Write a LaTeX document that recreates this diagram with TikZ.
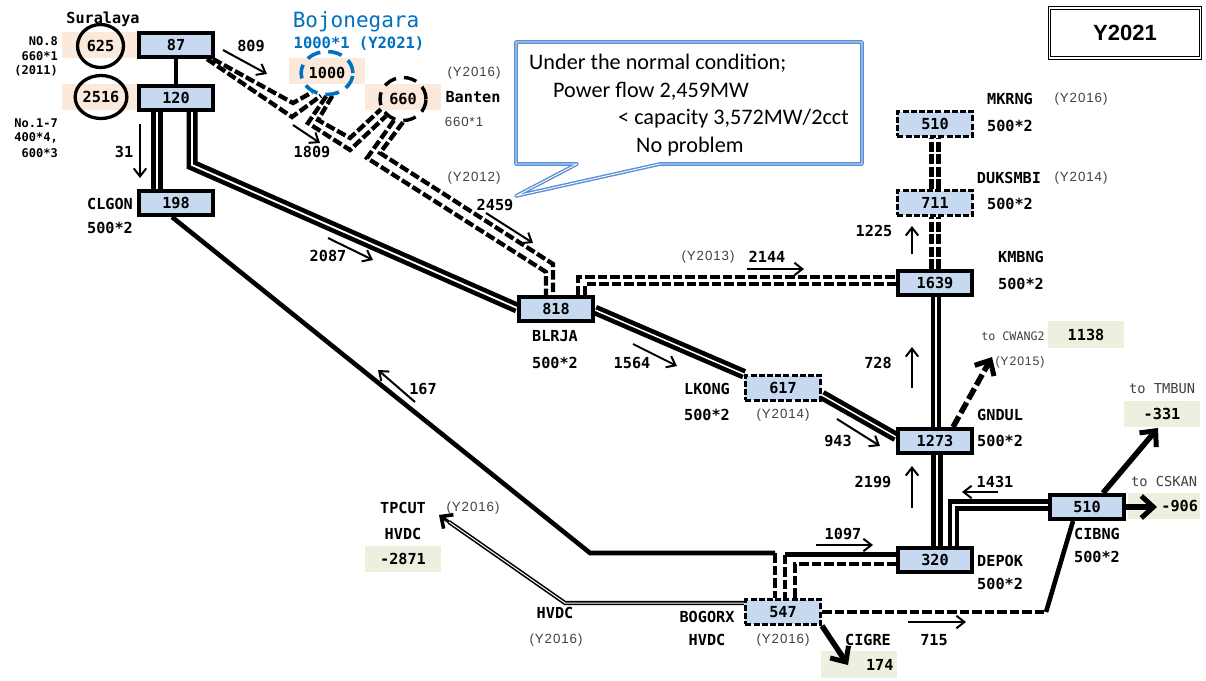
\documentclass[tikz,border=0pt]{standalone}
\usepackage{fontspec}
\usetikzlibrary{arrows.meta,shapes.geometric,calc}
\setmainfont{Liberation Sans}
\newfontfamily\labfont{DejaVu Sans Mono}
\newfontfamily\yrfont[LetterSpace=7]{Liberation Sans}
\newfontfamily\notefont{Carlito}
\definecolor{nodeblue}{HTML}{C6D9F1}
\definecolor{peach}{HTML}{FBE9DB}
\definecolor{palegreen}{HTML}{EBF1DE}
\definecolor{yeargray}{HTML}{404040}
\definecolor{bojoblue}{HTML}{0070C0}
\definecolor{calloutblue}{HTML}{5B8FD5}
\pgfdeclarelayer{panel}
\pgfdeclarelayer{wire}
\pgfsetlayers{panel,wire,main}
\tikzset{
  sub/.style={draw=black,fill=nodeblue,line width=3.8pt,minimum width=74.2pt,minimum height=24.2pt,inner sep=0pt,font=\labfont\fontsize{15.2}{15.2}\selectfont\bfseries},
  newsub/.style={sub,line width=2.8pt,dash pattern=on 6pt off 2.2pt,minimum width=75.2pt,minimum height=24.8pt},
  lab/.style={inner sep=0pt,font=\labfont\fontsize{15.2}{15.2}\selectfont\bfseries},
  smalllab/.style={inner sep=0pt,font=\labfont\fontsize{12}{12}\selectfont\bfseries},
  yr/.style={inner sep=0pt,text=yeargray,font=\yrfont\fontsize{13.3}{14}\selectfont},
  tolab/.style={inner sep=0pt,text=yeargray,font=\labfont\fontsize{13.7}{14}\selectfont},
  peachbox/.style={fill=peach,minimum width=76pt,minimum height=26.5pt,inner sep=0pt},
  greenbox/.style={fill=palegreen,minimum width=76pt,minimum height=26.5pt,inner sep=0pt,font=\labfont\fontsize{15.2}{15.2}\selectfont\bfseries},
  gen/.style={ellipse,draw=black,line width=3.3pt,minimum width=46pt,minimum height=43pt,inner sep=0pt,font=\labfont\fontsize{15.2}{15.2}\selectfont\bfseries},
  solid1/.style={line width=4.6pt,line join=miter},
  dash1/.style={line width=4.3pt,dash pattern=on 9.5pt off 3pt},
  dash2/.style={line width=5pt,double distance=2pt,dash pattern=on 10pt off 2.5pt},
  dblsolid/.style={line width=4.6pt,double distance=1.8pt},
  dblthin/.style={line width=1.6pt,double distance=1pt},
  flowarr/.style={line width=2pt,-{Straight Barb[length=8pt,width=12.5pt,line width=2pt]}},
  bigarr/.style={line width=5.5pt,-{Straight Barb[length=12pt,width=22pt,line width=5pt]}},
  notetext/.style={inner sep=0pt,anchor=base west,font=\notefont\fontsize{22.2}{23}\selectfont},
}
\newcommand{\flowline}[3]{\coordinate (#1a) at (#2);\coordinate (#1b) at (#3);\draw[flowarr] (#1a) -- (#1b);}
\begin{document}
\begin{tikzpicture}[x=1pt,y=-1pt]
\useasboundingbox (0,0) rectangle (1206,680);

% substations
\node[sub] (n87) at (176,45) {87};
\node[sub] (n120) at (176,98) {120};
\node[sub] (n198) at (176,203) {198};
\node[sub] (n818) at (556,309) {818};
\node[newsub] (n617) at (783,388) {617};
\node[sub] (n1639) at (935,283) {1639};
\node[sub] (n1273) at (935,441) {1273};
\node[newsub] (n711) at (935,203) {711};
\node[newsub] (n510m) at (935,124) {510};
\node[sub] (n320) at (935,560) {320};
\node[sub] (n510c) at (1087,507) {510};
\node[newsub] (n547) at (783,612) {547};

% power stations
\node[gen] (c625) at (100.5,46) {625};
\node[gen] (c2516) at (101,97) {2516};
\node[gen,draw=bojoblue,line width=3.6pt,dash pattern=on 14pt off 8pt] (c1000) at (327,73) {1000};
\node[gen,line width=3.4pt,dash pattern=on 13pt off 8pt] (c660) at (403,99) {660};

% panels
\begin{pgfonlayer}{panel}
\node[peachbox] (p625) at (100,45) {};
\node[peachbox] (p2516) at (100,97) {};
\node[peachbox] (p1000) at (327,71) {};
\node[peachbox] (p660) at (403,97) {};
\node[greenbox] (g1138) at (1086,334.5) {1138};
\node[greenbox] (g331) at (1162,414) {-331};
\node[greenbox,minimum width=72pt,text width=68pt,align=right] (g906) at (1164,506) {-906};
\node[greenbox,text width=70pt,align=right] (g174) at (858.5,664.5) {174};
\node[greenbox] (g2871) at (403,559) {-2871};
\end{pgfonlayer}

% connectors
\begin{pgfonlayer}{wire}
\draw[solid1] (n87.south) -- (n120.north);
\draw[dblsolid,double distance=2.5pt] ([xshift=-19pt]n120.south) -- ([xshift=-19pt]n198.north);
\coordinate (b1) at (192,165);
\draw[dblsolid] ([xshift=16pt]n120.south) -- (b1) -- ([yshift=1pt]n818.west);
\draw[dblsolid,double distance=1.5pt] ([yshift=-1pt]n818.east) -- (n617.north west);
\draw[dblsolid,double distance=1.5pt] ([yshift=-7pt]n617.east) -- ([yshift=4pt]n1273.west);
\draw[dblsolid,double distance=1.6pt] ([xshift=1pt]n1273.north) -- ([xshift=1pt]n1639.south);
\draw[dblsolid,line width=5pt,double distance=1.8pt] ([xshift=2pt]n320.north) -- ([xshift=2pt]n1273.south);
\coordinate (b2) at (953.5,505);
\draw[dblsolid,line width=4.3pt,double distance=2.8pt] ([xshift=18.5pt]n320.north) -- (b2) -- ([yshift=2pt]n510c.west);

% Suralaya / Bojonegara / Banten loops
\coordinate (a1) at (293,103); \coordinate (a2) at (292,117);
\draw[dash1] ([xshift=-2pt]n87.south east) -- (a1) -- (c1000.232);
\draw[dash1] ([xshift=-8pt]n87.south east) -- (a2) -- (c1000.255);
\coordinate (d1) at (318,120); \coordinate (d2) at (350,138);
\coordinate (e1) at (308,123); \coordinate (e2) at (350,150);
\draw[dash1] (c1000.283) -- (d1) -- (d2) -- (c660.205);
\draw[dash1] (c1000.268) -- (e1) -- (e2) -- (c660.225);
\coordinate (f1) at (380,153); \coordinate (f2) at (553,264);
\coordinate (h1) at (367,158); \coordinate (h2) at (546,272);
\draw[dash1] (c660.270) -- (f1) -- (f2) -- ([xshift=-3pt]n818.north);
\draw[dash1] (c660.247) -- (h1) -- (h2) -- ([xshift=-10pt]n818.north);

% 818 - 1639
\coordinate (k1) at (578,277); \coordinate (k2) at (585,284);
\draw[dash1] ([xshift=22pt]n818.north) -- (k1) -- ([yshift=6pt]n1639.west);
\draw[dash1] ([xshift=29pt]n818.north) -- (k2) -- ([yshift=-1pt]n1639.west);

% north branch
\draw[dash2] (n1639.north) -- (n711.south);
\draw[dash2] (n711.north) -- (n510m.south);

% CLGON - BOGORX
\coordinate (m1) at (590,553); \coordinate (m2) at (775,553);
\draw[solid1] ([xshift=-4pt]n198.south) -- (m1) -- (m2);
\draw[dash1,line width=4.8pt] (m2) -- ([xshift=-8pt]n547.north);
\coordinate (m3) at (785,554.5);
\draw[solid1] ([yshift=5.5pt]n320.west) -- (m3);
\draw[dash1,line width=4.8pt] (m3) -- ([xshift=2pt]n547.north);
\coordinate (m4) at (795,564);
\draw[dash1] ([yshift=-4pt]n320.west) -- (m4) -- ([xshift=12pt]n547.north);

% BOGORX - CIBNG
\coordinate (q1) at (1046,612);
\draw[dash1,line width=4.6pt] (n547.east) -- (q1);
\draw[solid1] (q1) -- ([xshift=-14pt]n510c.south);

% HVDC
\coordinate (r1) at (565,603); \coordinate (r2) at (449,522); \coordinate (r3) at (439,515);
\draw[dblthin] ([yshift=9pt]n547.west) -- (r1) -- (r2);
\draw[line width=3pt,-{Straight Barb[length=9pt,width=17pt,line width=3.6pt]}] (r2) -- (r3);

% outgoing arrows
\coordinate (t1) at (992,357);
\draw[bigarr,dash pattern=on 12pt off 4pt] ([xshift=18pt]n1273.north) -- (t1);
\coordinate (t2) at (1158,428);
\draw[bigarr] ([xshift=16pt]n510c.north) -- (t2);
\coordinate (t3) at (1157,507);
\draw[bigarr] (n510c.east) -- (t3);
\coordinate (t4) at (848,665);
\draw[bigarr] (n547.south east) -- (t4);

% flow arrows
\flowline{f809}{223,50}{267,74}
\flowline{f1809}{293,125}{320,143}
\flowline{f31}{140,124}{140,178}
\flowline{f2459}{486,213}{533,243}
\flowline{f2087}{328,238}{373,260}
\flowline{f1564}{633,344}{677,366}
\flowline{f943}{837,419}{880,446}
\flowline{f2144}{747,269}{804,269}
\flowline{f1225}{912,254}{912,226}
\flowline{f728}{912,388}{912,347}
\flowline{f2199}{912,508}{912,466}
\flowline{f1431}{998,492}{962,492}
\flowline{f1097}{816,545}{873,545}
\flowline{f715}{908,622}{966,622}
\flowline{f167}{415,402}{378,370}
\end{pgfonlayer}

% labels
\node[lab] (tSur) at (103,19) {Suralaya};
\node[smalllab,anchor=east] (t1a) at (58,41) {NO.8};
\node[smalllab,anchor=east] (t1b) at (58,56) {660*1};
\node[smalllab,anchor=east] (t1c) at (58,71) {(2011)};
\node[smalllab,anchor=east] (t2a) at (58,123) {No.1-7};
\node[smalllab,anchor=east] (t2b) at (58,138) {400*4,};
\node[smalllab,anchor=east] (t2c) at (58,153) {600*3};
\node[inner sep=0pt,text=bojoblue,font=\labfont\fontsize{21}{21}\selectfont] (tBojo) at (356,22) {Bojonegara};
\node[inner sep=0pt,text=bojoblue,font=\labfont\fontsize{15.5}{15.5}\selectfont\bfseries] (tBojo2) at (359,44) {1000*1 (Y2021)};
\node[yr] (y1) at (474,73) {(Y2016)};
\node[lab] (tBanten) at (473,97) {Banten};
\node[yr] (tB2) at (464,122) {660*1};
\node[yr] (y2) at (474,178) {(Y2012)};
\node[lab] (l2459) at (495,205) {2459};
\node[lab] (l1809) at (312,152) {1809};
\node[lab] (l31) at (124,152) {31};
\node[lab] (l809) at (251,46) {809};
\node[lab] (tCl) at (110,204) {CLGON};
\node[lab] (tCl2) at (110,228) {500*2};
\node[lab] (l2087) at (328,256) {2087};
\node[yr] (y3) at (708,257) {(Y2013)};
\node[lab] (l2144) at (767,257) {2144};
\node[lab] (l1225) at (874,231) {1225};
\node[lab] (tMk) at (1010,99) {MKRNG};
\node[yr] (y4) at (1081,99) {(Y2016)};
\node[lab] (tMk2) at (1010,126) {500*2};
\node[lab] (tDu) at (1009,178) {DUKSMBI};
\node[yr] (y5) at (1081,178) {(Y2014)};
\node[lab] (tDu2) at (1010,204) {500*2};
\node[lab] (tKm) at (1021,257) {KMBNG};
\node[lab] (tKm2) at (1021,284) {500*2};
\node[lab] (tBl) at (555,336) {BLRJA};
\node[lab] (tBl2) at (555,363) {500*2};
\node[lab] (l1564) at (632,363) {1564};
\node[lab] (tLk) at (707,389) {LKONG};
\node[lab] (tLk2) at (707,415) {500*2};
\node[yr] (y6) at (783,415) {(Y2014)};
\node[lab] (l943) at (838,441) {943};
\node[lab] (l728) at (878,363) {728};
\node[tolab,font=\labfont\fontsize{11.7}{12}\selectfont] (tCw) at (1013,336) {to CWANG2};
\node[yr,font=\yrfont\fontsize{12.3}{13}\selectfont] (y7) at (1020,362) {(Y2015)};
\node[lab,anchor=west] (tGn) at (977,415) {GNDUL};
\node[lab,anchor=west] (tGn2) at (977,441) {500*2};
\node[tolab] (tTm) at (1162,389) {to TMBUN};
\node[tolab] (tCs) at (1164,482) {to CSKAN};
\node[lab] (l2199) at (873,482) {2199};
\node[lab] (l1431) at (995,482) {1431};
\node[lab] (l1097) at (843,534) {1097};
\node[lab,anchor=west] (tDe) at (977,561) {DEPOK};
\node[lab,anchor=west] (tDe2) at (977,584) {500*2};
\node[lab] (tCi) at (1097,534) {CIBNG};
\node[lab] (tCi2) at (1097,557) {500*2};
\node[lab] (tBo) at (707,617) {BOGORX};
\node[lab] (tBo2) at (707,640) {HVDC};
\node[yr] (y8) at (783,640) {(Y2016)};
\node[lab] (tCg) at (868,640) {CIGRE};
\node[lab] (l715) at (934,640) {715};
\node[lab] (tHv) at (555,613) {HVDC};
\node[yr] (y9) at (556,640) {(Y2016)};
\node[lab] (tTp) at (403,508) {TPCUT};
\node[lab] (tTp2) at (403,534) {HVDC};
\node[yr] (y10) at (473,508) {(Y2016)};
\node[lab] (l167) at (423,389) {167};

% year box
\node[draw=black,line width=1.3pt,double distance=1.2pt,minimum width=151pt,minimum height=50pt,inner sep=0pt,font=\fontsize{22}{22}\selectfont\bfseries] (yearbox) at (1125,33) {Y2021};

% callout
\coordinate (w1) at (516,42); \coordinate (w2) at (862,42); \coordinate (w3) at (862,164);
\coordinate (w4) at (660,164); \coordinate (w5) at (516,196); \coordinate (w6) at (577,164); \coordinate (w7) at (516,164);
\draw[calloutblue,line width=1.4pt,double distance=.9pt,line join=round] (w1) -- (w2) -- (w3) -- (w4) -- (w5) -- (w6) -- (w7) -- cycle;
\node[notetext] (n1) at (529,69.5) {Under the normal condition;};
\node[notetext] (n2) at (553,97) {Power flow 2,459MW};
\node[notetext] (n3) at (618,124) {< capacity 3,572MW/2cct};
\node[notetext] (n4) at (636,152) {No problem};
\end{tikzpicture}
\end{document}
